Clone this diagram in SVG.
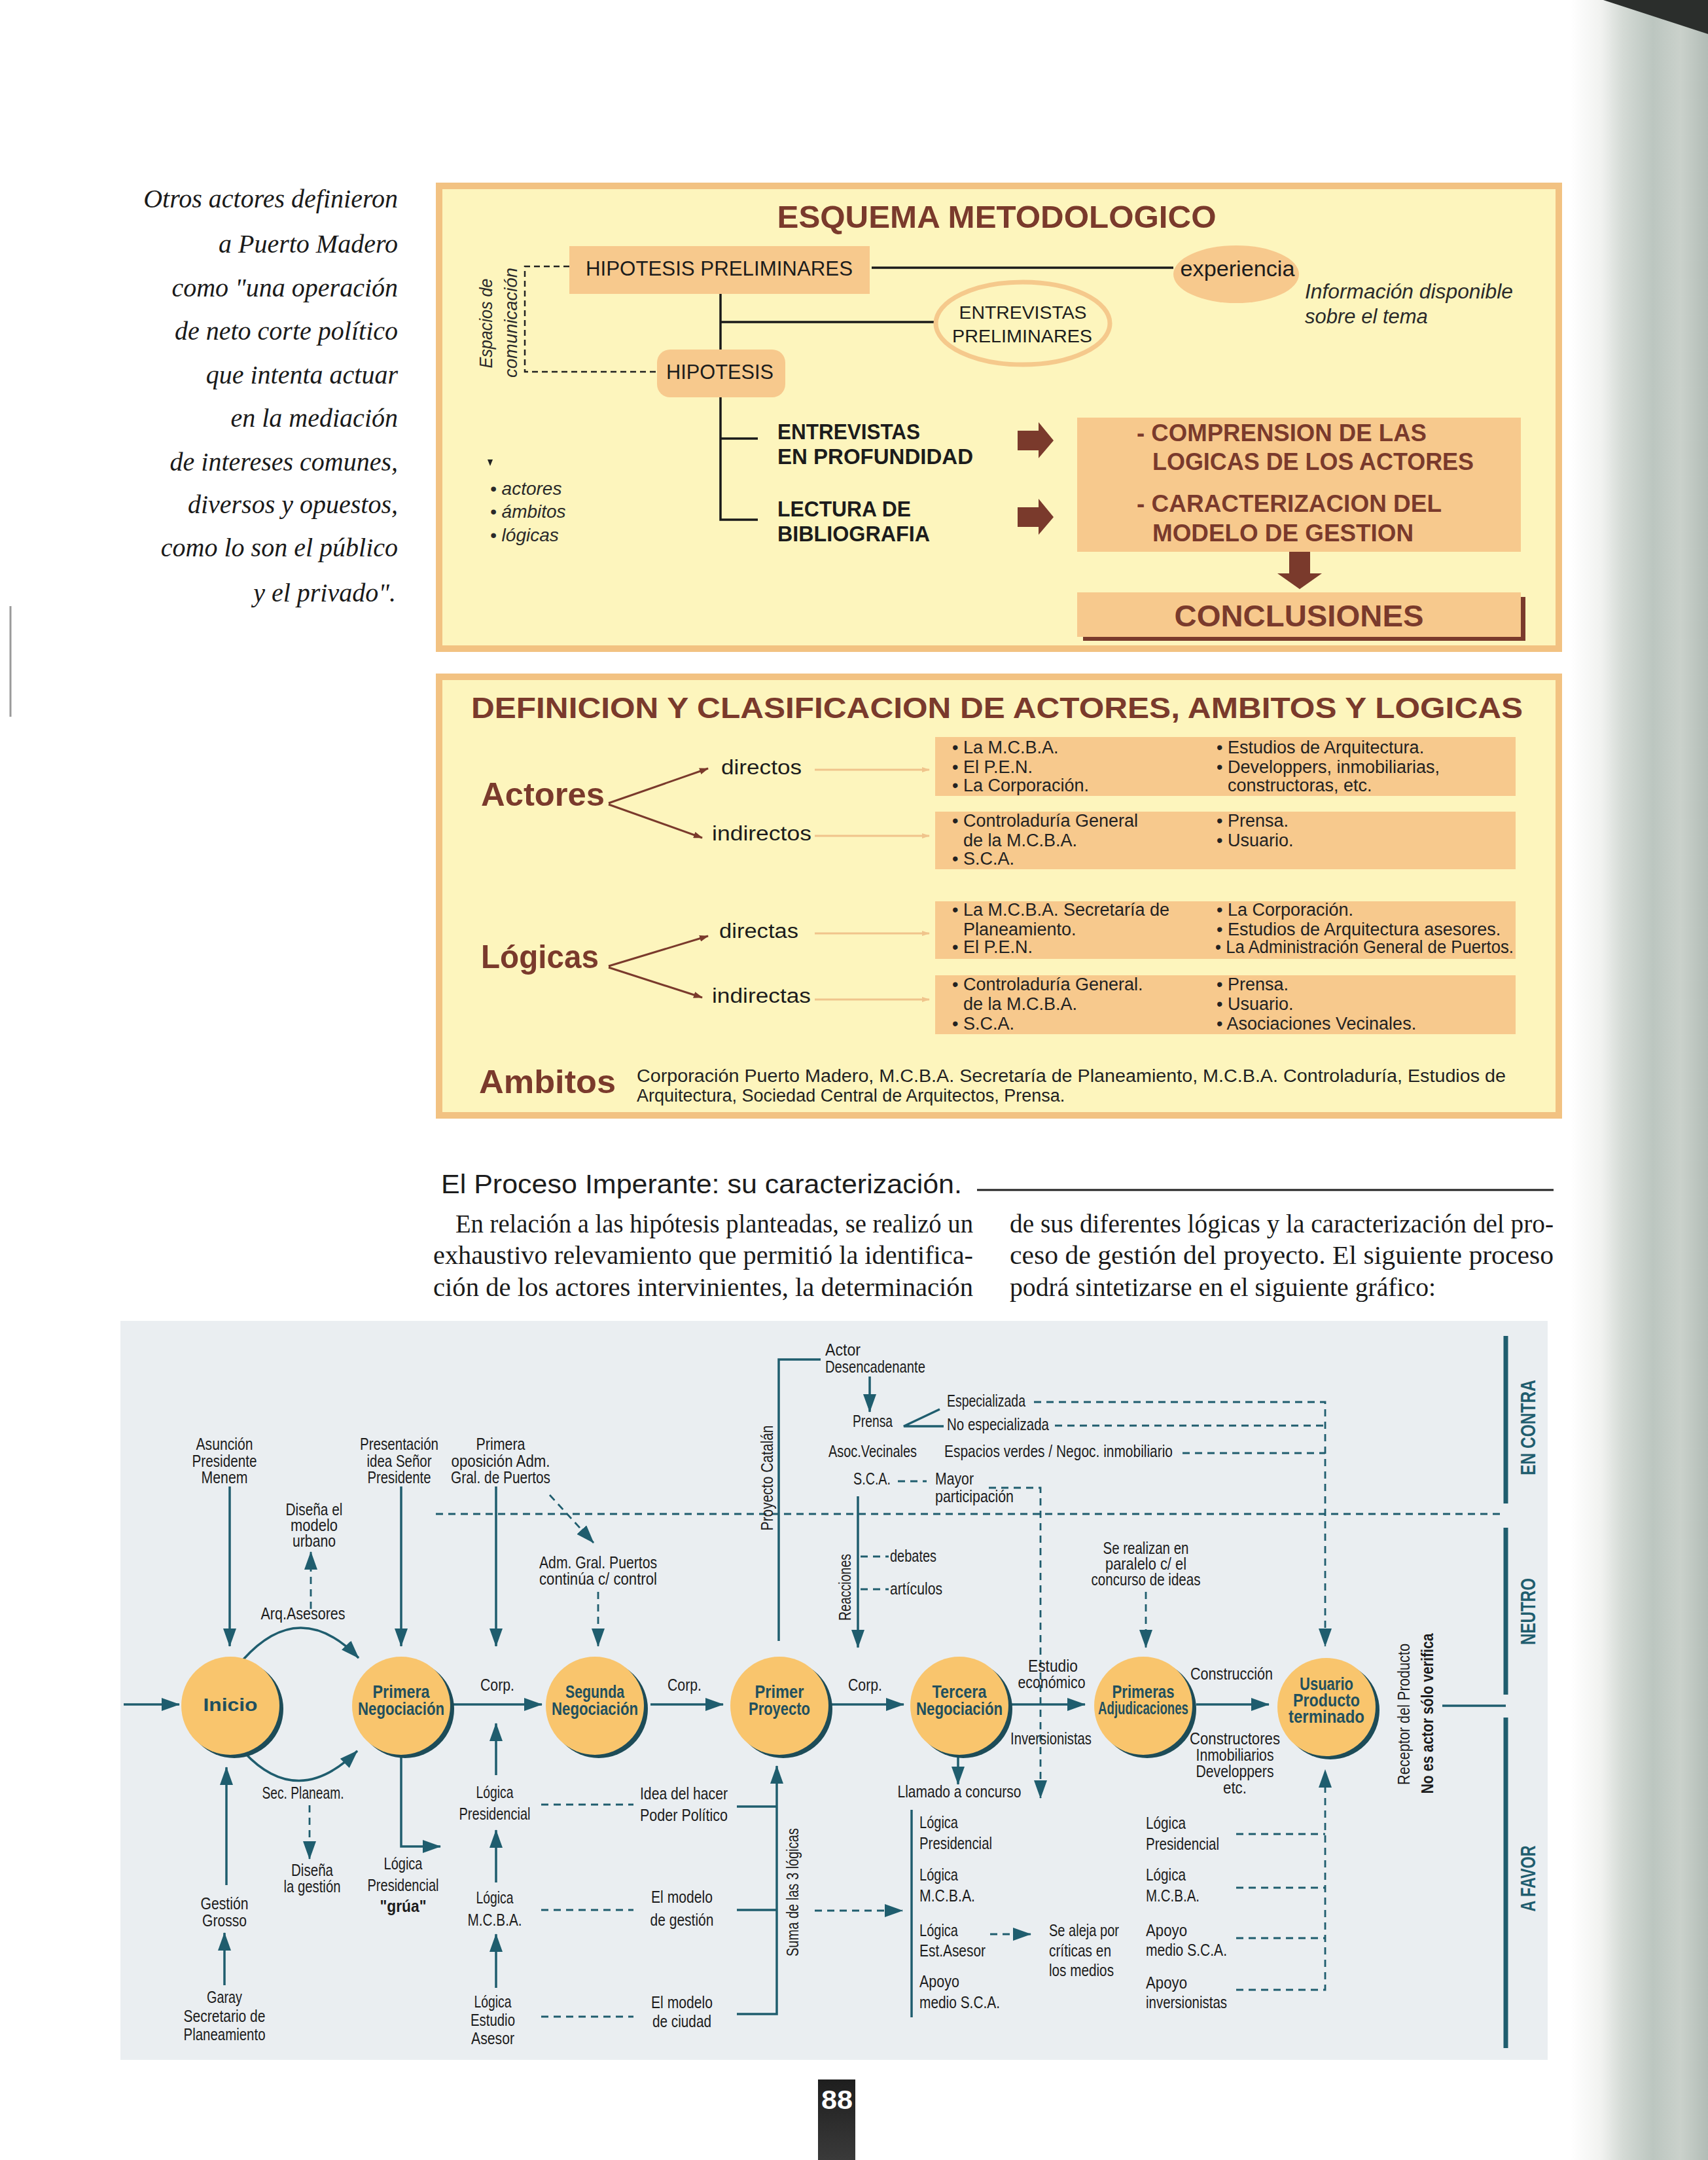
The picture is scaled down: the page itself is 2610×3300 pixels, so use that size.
<svg xmlns="http://www.w3.org/2000/svg" width="2610" height="3300" viewBox="0 0 2610 3300">
<defs>
<style>
.qt{font-family:"Liberation Serif",serif;font-style:italic;font-size:40px;fill:#1a1a1a;text-anchor:end}
.ttl{font-family:"Liberation Sans",sans-serif;font-weight:bold;fill:#7a3a2c}
.sb{font-family:"Liberation Sans",sans-serif;fill:#1c1c1c}
.bt{font-family:"Liberation Sans",sans-serif;font-size:27px;fill:#222}
.it{font-family:"Liberation Sans",sans-serif;font-style:italic;fill:#2a2a2a}
.pg{font-family:"Liberation Serif",serif;font-size:39px;fill:#1a1a1a}
.d{font-family:"Liberation Sans",sans-serif;font-size:26px;fill:#1c1c1c;text-anchor:middle}
.ds{font-family:"Liberation Sans",sans-serif;font-size:26px;fill:#1c1c1c}
.nd{font-family:"Liberation Sans",sans-serif;font-weight:bold;font-size:28px;fill:#21505e;text-anchor:middle}
.side{font-family:"Liberation Sans",sans-serif;font-weight:bold;font-size:32px;fill:#1f5d6e;text-anchor:middle}
.ln{stroke:#1f5d6e;stroke-width:3.5;fill:none}
.dash{stroke:#1f5d6e;stroke-width:2.8;fill:none;stroke-dasharray:11 8}
.bl{stroke:#1a1a1a;stroke-width:3.5;fill:none}
.tan{fill:#f7c98d}
.ybox{fill:#fdf5bd;stroke:#f2c282;stroke-width:10}
.bar{stroke:#1f5d6e;stroke-width:7;fill:none}
.circ{fill:#f9c56d}
.shd{fill:#1d4c58}
</style>
<marker id="ah" viewBox="0 0 28 20" refX="27" refY="10" markerWidth="28" markerHeight="20" markerUnits="userSpaceOnUse" orient="auto"><path d="M0,0 L28,10 L0,20 z" fill="#1f5d6e"/></marker>
<marker id="ab" viewBox="0 0 14 10" refX="13" refY="5" markerWidth="14" markerHeight="10" markerUnits="userSpaceOnUse" orient="auto"><path d="M0,0 L14,5 L0,10 z" fill="#7a3a2c"/></marker>
<marker id="af" viewBox="0 0 12 8" refX="11" refY="4" markerWidth="12" markerHeight="8" markerUnits="userSpaceOnUse" orient="auto"><path d="M0,0 L12,4 L0,8 z" fill="#f0c48c"/></marker>
<linearGradient id="edge" x1="0" y1="0" x2="1" y2="0">
<stop offset="0" stop-color="#ffffff"/>
<stop offset="0.22" stop-color="#f1f2f0"/>
<stop offset="0.38" stop-color="#d4dad5"/>
<stop offset="0.6" stop-color="#bcc6c0"/>
<stop offset="0.8" stop-color="#cad1cb"/>
<stop offset="1" stop-color="#b2bcb6"/>
</linearGradient>
<linearGradient id="pn" x1="0" y1="0" x2="0" y2="1">
<stop offset="0" stop-color="#1e1e1e"/>
<stop offset="1" stop-color="#3a3a3a"/>
</linearGradient>
</defs>

<rect x="0" y="0" width="2610" height="3300" fill="#ffffff"/>
<rect x="2400" y="0" width="210" height="3300" fill="url(#edge)"/>
<polygon points="2450,0 2610,0 2610,52 2530,26" fill="#2b2e2c"/>
<line x1="16" y1="926" x2="16" y2="1095" stroke="#9a9a9a" stroke-width="3"/>

<!-- Quote -->
<g id="quote">
<text class="qt" x="608" y="317">Otros actores definieron</text>
<text class="qt" x="608" y="386">a Puerto Madero</text>
<text class="qt" x="608" y="453">como "una operación</text>
<text class="qt" x="608" y="519">de neto corte político</text>
<text class="qt" x="608" y="586">que intenta actuar</text>
<text class="qt" x="608" y="652">en la mediación</text>
<text class="qt" x="608" y="719">de intereses comunes,</text>
<text class="qt" x="608" y="784">diversos y opuestos,</text>
<text class="qt" x="608" y="850">como lo son el público</text>
<text class="qt" x="605" y="919">y el privado".</text>
</g>

<!-- ESQUEMA METODOLOGICO -->
<g id="esquema">
<rect class="ybox" x="671" y="284" width="1711" height="707"/>
<text class="ttl" x="1523" y="348" font-size="49" text-anchor="middle" textLength="671" lengthAdjust="spacingAndGlyphs">ESQUEMA METODOLOGICO</text>
</g>
<g id="esq-connectors">
<path d="M870 407 H802 V568 H1002" stroke="#222" stroke-width="2.5" fill="none" stroke-dasharray="9 6"/>
<path class="bl" d="M1332 409 H1793"/>
<path class="bl" d="M1101 449 V534"/>
<path class="bl" d="M1101 492 H1429"/>
<path class="bl" d="M1101 607 V794 H1158"/>
<path class="bl" d="M1101 670 H1158"/>
<polygon points="1555,658 1587,658 1587,645 1610,673 1587,700 1587,688 1555,688" fill="#7a3a2c"/>
<polygon points="1555,775 1587,775 1587,762 1610,790 1587,817 1587,805 1555,805" fill="#7a3a2c"/>
<polygon points="1970,843 2002,843 2002,876 2020,876 1986,900 1952,876 1970,876" fill="#7a3a2c"/>
</g>
<g id="esq-espacios">
<text class="it" font-size="28" transform="translate(752,494) rotate(-90)" text-anchor="middle" textLength="137" lengthAdjust="spacingAndGlyphs">Espacios de</text>
<text class="it" font-size="28" transform="translate(790,493) rotate(-90)" text-anchor="middle" textLength="168" lengthAdjust="spacingAndGlyphs">comunicación</text>
</g>
<g id="esq-hip-prel">
<rect class="tan" x="870" y="376" width="459" height="73"/>
<text class="sb" x="1099" y="421" font-size="31" text-anchor="middle" textLength="408" lengthAdjust="spacingAndGlyphs">HIPOTESIS PRELIMINARES</text>
</g>
<g id="esq-experiencia">
<ellipse class="tan" cx="1889" cy="419" rx="96" ry="44"/>
<text class="sb" x="1891" y="422" font-size="33" text-anchor="middle" textLength="175" lengthAdjust="spacingAndGlyphs">experiencia</text>
<text class="it" x="1994" y="456" font-size="31" textLength="318" lengthAdjust="spacingAndGlyphs">Información disponible</text>
<text class="it" x="1994" y="494" font-size="31">sobre el tema</text>
</g>
<g id="esq-entrevistas-prel">
<ellipse cx="1563" cy="494" rx="133" ry="63" fill="#fdf5bd" stroke="#f5c98c" stroke-width="7"/>
<text class="sb" x="1563" y="487" font-size="28" text-anchor="middle" textLength="195" lengthAdjust="spacingAndGlyphs">ENTREVISTAS</text>
<text class="sb" x="1562" y="523" font-size="28" text-anchor="middle" textLength="214" lengthAdjust="spacingAndGlyphs">PRELIMINARES</text>
</g>
<g id="esq-hipotesis">
<rect class="tan" x="1004" y="534" width="196" height="73" rx="20"/>
<text class="sb" x="1100" y="579" font-size="31" text-anchor="middle" textLength="164" lengthAdjust="spacingAndGlyphs">HIPOTESIS</text>
</g>
<g id="esq-list">
<polygon points="745,702 753,702 749,712" fill="#222"/>
<text class="it" x="749" y="756" font-size="28">• actores</text>
<text class="it" x="749" y="791" font-size="28">• ámbitos</text>
<text class="it" x="749" y="827" font-size="28">• lógicas</text>
</g>
<g id="esq-entrevistas-prof">
<text class="sb" x="1188" y="671" font-size="33" font-weight="bold" textLength="218" lengthAdjust="spacingAndGlyphs">ENTREVISTAS</text>
<text class="sb" x="1188" y="709" font-size="33" font-weight="bold" textLength="299" lengthAdjust="spacingAndGlyphs">EN PROFUNDIDAD</text>
</g>
<g id="esq-lectura">
<text class="sb" x="1188" y="789" font-size="33" font-weight="bold" textLength="204" lengthAdjust="spacingAndGlyphs">LECTURA DE</text>
<text class="sb" x="1188" y="827" font-size="33" font-weight="bold" textLength="233" lengthAdjust="spacingAndGlyphs">BIBLIOGRAFIA</text>
</g>
<g id="esq-comprension">
<rect class="tan" x="1646" y="638" width="678" height="205"/>
<text class="ttl" x="1737" y="674" font-size="36" textLength="443" lengthAdjust="spacingAndGlyphs">- COMPRENSION DE LAS</text>
<text class="ttl" x="1761" y="718" font-size="36" textLength="491" lengthAdjust="spacingAndGlyphs">LOGICAS DE LOS ACTORES</text>
<text class="ttl" x="1737" y="782" font-size="36" textLength="466" lengthAdjust="spacingAndGlyphs">- CARACTERIZACION DEL</text>
<text class="ttl" x="1761" y="827" font-size="36" textLength="399" lengthAdjust="spacingAndGlyphs">MODELO DE GESTION</text>
</g>
<g id="esq-conclusiones">
<rect x="1655" y="912" width="676" height="67" fill="#7a3a2c"/>
<rect class="tan" x="1646" y="905" width="678" height="68"/>
<text class="ttl" x="1985" y="957" font-size="47" text-anchor="middle" textLength="381" lengthAdjust="spacingAndGlyphs">CONCLUSIONES</text>
</g>

<!-- DEFINICION Y CLASIFICACION -->
<g id="definicion">
<rect class="ybox" x="671" y="1034" width="1711" height="670"/>
<text class="ttl" x="720" y="1097" font-size="44" textLength="1607" lengthAdjust="spacingAndGlyphs">DEFINICION Y CLASIFICACION DE ACTORES, AMBITOS Y LOGICAS</text>
</g>
<g id="def-connectors">
<path d="M930 1227 L1082 1174" stroke="#7a3a2c" stroke-width="3" fill="none" marker-end="url(#ab)"/>
<path d="M930 1229 L1073 1280" stroke="#7a3a2c" stroke-width="3" fill="none" marker-end="url(#ab)"/>
<path d="M930 1476 L1082 1430" stroke="#7a3a2c" stroke-width="3" fill="none" marker-end="url(#ab)"/>
<path d="M930 1478 L1073 1524" stroke="#7a3a2c" stroke-width="3" fill="none" marker-end="url(#ab)"/>
<path d="M1245 1176 H1420" stroke="#f0c48c" stroke-width="3" fill="none" marker-end="url(#af)"/>
<path d="M1245 1277 H1420" stroke="#f0c48c" stroke-width="3" fill="none" marker-end="url(#af)"/>
<path d="M1245 1426 H1420" stroke="#f0c48c" stroke-width="3" fill="none" marker-end="url(#af)"/>
<path d="M1245 1527 H1420" stroke="#f0c48c" stroke-width="3" fill="none" marker-end="url(#af)"/>
</g>
<g id="def-actores">
<text class="ttl" x="735" y="1231" font-size="50" textLength="189" lengthAdjust="spacingAndGlyphs">Actores</text>
<text class="sb" x="1102" y="1183" font-size="31" textLength="123" lengthAdjust="spacingAndGlyphs">directos</text>
<text class="sb" x="1088" y="1284" font-size="31" textLength="152" lengthAdjust="spacingAndGlyphs">indirectos</text>
</g>
<g id="def-actores-directos">
<rect class="tan" x="1429" y="1126" width="887" height="90"/>
<text class="bt" x="1455" y="1151">• La M.C.B.A.</text>
<text class="bt" x="1455" y="1181">• El P.E.N.</text>
<text class="bt" x="1455" y="1209">• La Corporación.</text>
<text class="bt" x="1859" y="1151">• Estudios de Arquitectura.</text>
<text class="bt" x="1859" y="1181">• Developpers, inmobiliarias,</text>
<text class="bt" x="1876" y="1209">constructoras, etc.</text>
</g>
<g id="def-actores-indirectos">
<rect class="tan" x="1429" y="1240" width="887" height="88"/>
<text class="bt" x="1455" y="1263">• Controladuría General</text>
<text class="bt" x="1472" y="1293">de la M.C.B.A.</text>
<text class="bt" x="1455" y="1321">• S.C.A.</text>
<text class="bt" x="1859" y="1263">• Prensa.</text>
<text class="bt" x="1859" y="1293">• Usuario.</text>
</g>
<g id="def-logicas">
<text class="ttl" x="735" y="1479" font-size="50" textLength="180" lengthAdjust="spacingAndGlyphs">Lógicas</text>
<text class="sb" x="1099" y="1433" font-size="31" textLength="121" lengthAdjust="spacingAndGlyphs">directas</text>
<text class="sb" x="1088" y="1532" font-size="31" textLength="151" lengthAdjust="spacingAndGlyphs">indirectas</text>
</g>
<g id="def-logicas-directas">
<rect class="tan" x="1429" y="1377" width="887" height="88"/>
<text class="bt" x="1455" y="1399">• La M.C.B.A. Secretaría de</text>
<text class="bt" x="1472" y="1429">Planeamiento.</text>
<text class="bt" x="1455" y="1456">• El P.E.N.</text>
<text class="bt" x="1859" y="1399">• La Corporación.</text>
<text class="bt" x="1859" y="1429">• Estudios de Arquitectura asesores.</text>
<text class="bt" x="1857" y="1456" textLength="456" lengthAdjust="spacingAndGlyphs">• La Administración General de Puertos.</text>
</g>
<g id="def-logicas-indirectas">
<rect class="tan" x="1429" y="1490" width="887" height="90"/>
<text class="bt" x="1455" y="1513">• Controladuría General.</text>
<text class="bt" x="1472" y="1543">de la M.C.B.A.</text>
<text class="bt" x="1455" y="1573">• S.C.A.</text>
<text class="bt" x="1859" y="1513">• Prensa.</text>
<text class="bt" x="1859" y="1543">• Usuario.</text>
<text class="bt" x="1859" y="1573">• Asociaciones Vecinales.</text>
</g>
<g id="def-ambitos">
<text class="ttl" x="732" y="1670" font-size="50" textLength="209" lengthAdjust="spacingAndGlyphs">Ambitos</text>
<text class="bt" x="973" y="1653" textLength="1328" lengthAdjust="spacingAndGlyphs">Corporación Puerto Madero, M.C.B.A. Secretaría de Planeamiento, M.C.B.A. Controladuría, Estudios de</text>
<text class="bt" x="973" y="1683">Arquitectura, Sociedad Central de Arquitectos, Prensa.</text>
</g>

<!-- Heading and paragraph -->
<g id="heading">
<text class="sb" x="674" y="1823" font-size="40" textLength="796" lengthAdjust="spacingAndGlyphs">El Proceso Imperante: su caracterización.</text>
<line x1="1493" y1="1818" x2="2374" y2="1818" stroke="#222" stroke-width="3"/>
</g>
<g id="paragraph">
<text class="pg" x="696" y="1883" textLength="791" lengthAdjust="spacingAndGlyphs">En relación a las hipótesis planteadas, se realizó un</text>
<text class="pg" x="662" y="1931" textLength="825" lengthAdjust="spacingAndGlyphs">exhaustivo relevamiento que permitió la identifica-</text>
<text class="pg" x="662" y="1980" textLength="825" lengthAdjust="spacingAndGlyphs">ción de los actores intervinientes, la determinación</text>
<text class="pg" x="1543" y="1883" textLength="831" lengthAdjust="spacingAndGlyphs">de sus diferentes lógicas y la caracterización del pro-</text>
<text class="pg" x="1543" y="1931" textLength="831" lengthAdjust="spacingAndGlyphs">ceso de gestión del proyecto. El siguiente proceso</text>
<text class="pg" x="1543" y="1980" textLength="651" lengthAdjust="spacingAndGlyphs">podrá sintetizarse en el siguiente gráfico:</text>
</g>

<!-- Process diagram -->
<rect x="184" y="2018" width="2181" height="1129" fill="#eaeef1"/>

<g id="connectors">
<path class="ln" d="M189 2604 H274" marker-end="url(#ah)"/>
<path class="ln" d="M692 2604 H828" marker-end="url(#ah)"/>
<path class="ln" d="M994 2604 H1105" marker-end="url(#ah)"/>
<path class="ln" d="M1270 2604 H1381" marker-end="url(#ah)"/>
<path class="ln" d="M1544 2604 H1658" marker-end="url(#ah)"/>
<path class="ln" d="M1828 2604 H1939" marker-end="url(#ah)"/>
<path class="ln" d="M2204 2606 H2301"/>
<path class="ln" d="M351 2271 V2515" marker-end="url(#ah)"/>
<path class="ln" d="M613 2271 V2515" marker-end="url(#ah)"/>
<path class="ln" d="M758 2271 V2515" marker-end="url(#ah)"/>
<path class="ln" d="M372 2535 Q458 2440 548 2533" marker-end="url(#ah)"/>
<path class="ln" d="M373 2677 Q455 2765 546 2675" marker-end="url(#ah)"/>
<path class="ln" d="M613 2684 V2821 H673" marker-end="url(#ah)"/>
<path class="ln" d="M758 2712 V2633" marker-end="url(#ah)"/>
<path class="ln" d="M758 2876 V2796" marker-end="url(#ah)"/>
<path class="ln" d="M758 3037 V2955" marker-end="url(#ah)"/>
<path class="ln" d="M346 2880 V2700" marker-end="url(#ah)"/>
<path class="ln" d="M343 3033 V2953" marker-end="url(#ah)"/>
<path class="ln" d="M1254 2077 H1190 V2507"/>
<path class="ln" d="M1329 2103 V2157" marker-end="url(#ah)"/>
<path class="ln" d="M1436 2153 L1381 2179 L1442 2179"/>
<path class="ln" d="M1311 2286 V2517" marker-end="url(#ah)"/>
<path class="ln" d="M1126 2760 H1187"/>
<path class="ln" d="M1126 2918 H1187"/>
<path class="ln" d="M1126 3077 H1187 V2698" marker-end="url(#ah)"/>
<path class="ln" d="M1393 2765 V3082"/>
<path class="ln" d="M1464 2684 V2726" marker-end="url(#ah)"/>
<path class="dash" d="M475 2458 V2371" marker-end="url(#ah)"/>
<path class="dash" d="M473 2758 V2840" marker-end="url(#ah)"/>
<path class="dash" d="M840 2284 L907 2357" marker-end="url(#ah)"/>
<path class="dash" d="M914 2432 V2515" marker-end="url(#ah)"/>
<path class="dash" d="M666 2313 H2296"/>
<path class="dash" d="M1372 2263 H1416"/>
<path class="dash" d="M1511 2273 H1590 V2747" marker-end="url(#ah)"/>
<path class="dash" d="M1580 2142 H2025 V2515" marker-end="url(#ah)"/>
<path class="dash" d="M1612 2178 H2025"/>
<path class="dash" d="M1807 2220 H2025"/>
<path class="dash" d="M1315 2378 H1358"/>
<path class="dash" d="M1315 2428 H1358"/>
<path class="dash" d="M1751 2432 V2517" marker-end="url(#ah)"/>
<path class="dash" d="M827 2757 H968"/>
<path class="dash" d="M827 2918 H968"/>
<path class="dash" d="M827 3081 H968"/>
<path class="dash" d="M1245 2919 H1379" marker-end="url(#ah)"/>
<path class="dash" d="M1513 2955 H1575" marker-end="url(#ah)"/>
<path class="dash" d="M1889 2802 H2025"/>
<path class="dash" d="M1889 2884 H2025"/>
<path class="dash" d="M1889 2961 H2025"/>
<path class="dash" d="M1889 3040 H2025 V2704" marker-end="url(#ah)"/>
<path class="bar" d="M2301 2041 V2297"/>
<path class="bar" d="M2301 2334 V2589"/>
<path class="bar" d="M2301 2624 V3129"/>
</g>

<g id="node-inicio">
<circle class="shd" cx="358" cy="2611" r="75"/>
<circle class="circ" cx="352" cy="2606" r="75"/>
<text class="nd" x="352" y="2614" font-size="34" textLength="83" lengthAdjust="spacingAndGlyphs">Inicio</text>
</g>
<g id="node-primera">
<circle class="shd" cx="619" cy="2611" r="75"/>
<circle class="circ" cx="613" cy="2606" r="75"/>
<text class="nd" x="613" y="2594" textLength="87" lengthAdjust="spacingAndGlyphs">Primera</text>
<text class="nd" x="613" y="2620" textLength="132" lengthAdjust="spacingAndGlyphs">Negociación</text>
</g>
<g id="node-segunda">
<circle class="shd" cx="915" cy="2611" r="75"/>
<circle class="circ" cx="909" cy="2606" r="75"/>
<text class="nd" x="909" y="2594" textLength="90" lengthAdjust="spacingAndGlyphs">Segunda</text>
<text class="nd" x="909" y="2620" textLength="132" lengthAdjust="spacingAndGlyphs">Negociación</text>
</g>
<g id="node-primer-proyecto">
<circle class="shd" cx="1197" cy="2611" r="75"/>
<circle class="circ" cx="1191" cy="2606" r="75"/>
<text class="nd" x="1191" y="2594" textLength="75" lengthAdjust="spacingAndGlyphs">Primer</text>
<text class="nd" x="1191" y="2620" textLength="94" lengthAdjust="spacingAndGlyphs">Proyecto</text>
</g>
<g id="node-tercera">
<circle class="shd" cx="1472" cy="2611" r="75"/>
<circle class="circ" cx="1466" cy="2606" r="75"/>
<text class="nd" x="1466" y="2594" textLength="83" lengthAdjust="spacingAndGlyphs">Tercera</text>
<text class="nd" x="1466" y="2620" textLength="132" lengthAdjust="spacingAndGlyphs">Negociación</text>
</g>
<g id="node-primeras-adjudicaciones">
<circle class="shd" cx="1753" cy="2611" r="75"/>
<circle class="circ" cx="1747" cy="2606" r="75"/>
<text class="nd" x="1747" y="2594" font-size="25" textLength="95" lengthAdjust="spacingAndGlyphs">Primeras</text>
<text class="nd" x="1747" y="2619" font-size="25" textLength="138" lengthAdjust="spacingAndGlyphs">Adjudicaciones</text>
</g>
<g id="node-usuario">
<circle class="shd" cx="2033" cy="2613" r="75"/>
<circle class="circ" cx="2027" cy="2608" r="75"/>
<text class="nd" x="2027" y="2582" font-size="24" textLength="82" lengthAdjust="spacingAndGlyphs">Usuario</text>
<text class="nd" x="2027" y="2607" font-size="24" textLength="102" lengthAdjust="spacingAndGlyphs">Producto</text>
<text class="nd" x="2027" y="2632" font-size="24" textLength="116" lengthAdjust="spacingAndGlyphs">terminado</text>
</g>

<g id="labels-left">
<text class="d" x="343" y="2215" textLength="87" lengthAdjust="spacingAndGlyphs">Asunción</text>
<text class="d" x="343" y="2241" textLength="99" lengthAdjust="spacingAndGlyphs">Presidente</text>
<text class="d" x="343" y="2266" textLength="71" lengthAdjust="spacingAndGlyphs">Menem</text>
<text class="d" x="480" y="2315" textLength="87" lengthAdjust="spacingAndGlyphs">Diseña el</text>
<text class="d" x="480" y="2339" textLength="72" lengthAdjust="spacingAndGlyphs">modelo</text>
<text class="d" x="480" y="2363" textLength="66" lengthAdjust="spacingAndGlyphs">urbano</text>
<text class="d" x="463" y="2474" textLength="129" lengthAdjust="spacingAndGlyphs">Arq.Asesores</text>
<text class="d" x="610" y="2215" textLength="120" lengthAdjust="spacingAndGlyphs">Presentación</text>
<text class="d" x="610" y="2241" textLength="99" lengthAdjust="spacingAndGlyphs">idea Señor</text>
<text class="d" x="610" y="2266" textLength="97" lengthAdjust="spacingAndGlyphs">Presidente</text>
<text class="d" x="765" y="2215" textLength="75" lengthAdjust="spacingAndGlyphs">Primera</text>
<text class="d" x="765" y="2241" textLength="151" lengthAdjust="spacingAndGlyphs">oposición Adm.</text>
<text class="d" x="765" y="2266" textLength="152" lengthAdjust="spacingAndGlyphs">Gral. de Puertos</text>
<text class="d" x="914" y="2396" font-size="22" textLength="180" lengthAdjust="spacingAndGlyphs">Adm. Gral. Puertos</text>
<text class="d" x="914" y="2421" font-size="22" textLength="180" lengthAdjust="spacingAndGlyphs">continúa c/ control</text>
<text class="d" x="760" y="2583" textLength="52" lengthAdjust="spacingAndGlyphs">Corp.</text>
<text class="d" x="1046" y="2583" textLength="52" lengthAdjust="spacingAndGlyphs">Corp.</text>
<text class="d" x="1322" y="2583" textLength="52" lengthAdjust="spacingAndGlyphs">Corp.</text>
<text class="d" x="463" y="2748" textLength="125" lengthAdjust="spacingAndGlyphs">Sec. Planeam.</text>
<text class="d" x="477" y="2866" textLength="64" lengthAdjust="spacingAndGlyphs">Diseña</text>
<text class="d" x="477" y="2891" textLength="87" lengthAdjust="spacingAndGlyphs">la gestión</text>
<text class="d" x="616" y="2856" textLength="59" lengthAdjust="spacingAndGlyphs">Lógica</text>
<text class="d" x="616" y="2889" textLength="109" lengthAdjust="spacingAndGlyphs">Presidencial</text>
<text class="d" x="616" y="2921" font-weight="bold" textLength="71" lengthAdjust="spacingAndGlyphs">"grúa"</text>
<text class="d" x="343" y="2917" textLength="73" lengthAdjust="spacingAndGlyphs">Gestión</text>
<text class="d" x="343" y="2943" textLength="68" lengthAdjust="spacingAndGlyphs">Grosso</text>
<text class="d" x="343" y="3060" textLength="54" lengthAdjust="spacingAndGlyphs">Garay</text>
<text class="d" x="343" y="3089" textLength="125" lengthAdjust="spacingAndGlyphs">Secretario de</text>
<text class="d" x="343" y="3117" textLength="125" lengthAdjust="spacingAndGlyphs">Planeamiento</text>
<text class="d" x="756" y="2747" textLength="57" lengthAdjust="spacingAndGlyphs">Lógica</text>
<text class="d" x="756" y="2780" textLength="109" lengthAdjust="spacingAndGlyphs">Presidencial</text>
<text class="d" x="756" y="2908" textLength="57" lengthAdjust="spacingAndGlyphs">Lógica</text>
<text class="d" x="756" y="2942" textLength="83" lengthAdjust="spacingAndGlyphs">M.C.B.A.</text>
<text class="d" x="753" y="3067" textLength="57" lengthAdjust="spacingAndGlyphs">Lógica</text>
<text class="d" x="753" y="3095" textLength="68" lengthAdjust="spacingAndGlyphs">Estudio</text>
<text class="d" x="753" y="3123" textLength="66" lengthAdjust="spacingAndGlyphs">Asesor</text>
<text class="ds" x="978" y="2749" textLength="134" lengthAdjust="spacingAndGlyphs">Idea del hacer</text>
<text class="ds" x="978" y="2782" textLength="134" lengthAdjust="spacingAndGlyphs">Poder Político</text>
<text class="d" x="1042" y="2907" textLength="94" lengthAdjust="spacingAndGlyphs">El modelo</text>
<text class="d" x="1042" y="2942" textLength="97" lengthAdjust="spacingAndGlyphs">de gestión</text>
<text class="d" x="1042" y="3068" textLength="94" lengthAdjust="spacingAndGlyphs">El modelo</text>
<text class="d" x="1042" y="3097" textLength="90" lengthAdjust="spacingAndGlyphs">de ciudad</text>
<text class="d" transform="translate(1220,2891) rotate(-90)" textLength="196" lengthAdjust="spacingAndGlyphs">Suma de las 3 lógicas</text>
</g>

<g id="labels-top">
<text class="ds" x="1261" y="2071" textLength="54" lengthAdjust="spacingAndGlyphs">Actor</text>
<text class="ds" x="1261" y="2097" textLength="153" lengthAdjust="spacingAndGlyphs">Desencadenante</text>
<text class="d" transform="translate(1181,2258) rotate(-90)" textLength="161" lengthAdjust="spacingAndGlyphs">Proyecto Catalán</text>
<text class="ds" x="1303" y="2180" textLength="61" lengthAdjust="spacingAndGlyphs">Prensa</text>
<text class="ds" x="1447" y="2149" textLength="120" lengthAdjust="spacingAndGlyphs">Especializada</text>
<text class="ds" x="1447" y="2185" textLength="156" lengthAdjust="spacingAndGlyphs">No especializada</text>
<text class="ds" x="1266" y="2226" textLength="135" lengthAdjust="spacingAndGlyphs">Asoc.Vecinales</text>
<text class="ds" x="1443" y="2226" textLength="349" lengthAdjust="spacingAndGlyphs">Espacios verdes / Negoc. inmobiliario</text>
<text class="ds" x="1304" y="2268" textLength="57" lengthAdjust="spacingAndGlyphs">S.C.A.</text>
<text class="ds" x="1429" y="2268" textLength="59" lengthAdjust="spacingAndGlyphs">Mayor</text>
<text class="ds" x="1429" y="2295" textLength="120" lengthAdjust="spacingAndGlyphs">participación</text>
<text class="d" transform="translate(1300,2425) rotate(-90)" textLength="102" lengthAdjust="spacingAndGlyphs">Reacciones</text>
<text class="ds" x="1360" y="2386" textLength="71" lengthAdjust="spacingAndGlyphs">debates</text>
<text class="ds" x="1360" y="2436" textLength="80" lengthAdjust="spacingAndGlyphs">artículos</text>
<text class="d" x="1751" y="2374" textLength="131" lengthAdjust="spacingAndGlyphs">Se realizan en</text>
<text class="d" x="1751" y="2398" textLength="124" lengthAdjust="spacingAndGlyphs">paralelo c/ el</text>
<text class="d" x="1751" y="2422" textLength="167" lengthAdjust="spacingAndGlyphs">concurso de ideas</text>
<text class="d" x="1609" y="2554" font-size="24" textLength="76" lengthAdjust="spacingAndGlyphs">Estudio</text>
<text class="d" x="1607" y="2579" font-size="24" textLength="103" lengthAdjust="spacingAndGlyphs">económico</text>
<text class="d" x="1606" y="2665" textLength="124" lengthAdjust="spacingAndGlyphs">Inversionistas</text>
<text class="d" x="1882" y="2566" textLength="126" lengthAdjust="spacingAndGlyphs">Construcción</text>
<text class="d" x="1887" y="2665" font-size="23" textLength="138" lengthAdjust="spacingAndGlyphs">Constructores</text>
<text class="d" x="1887" y="2690" font-size="23" textLength="119" lengthAdjust="spacingAndGlyphs">Inmobiliarios</text>
<text class="d" x="1887" y="2715" font-size="23" textLength="119" lengthAdjust="spacingAndGlyphs">Developpers</text>
<text class="d" x="1887" y="2740" font-size="23" textLength="36" lengthAdjust="spacingAndGlyphs">etc.</text>
<text class="d" transform="translate(2154,2619) rotate(-90)" textLength="216" lengthAdjust="spacingAndGlyphs">Receptor del Producto</text>
<text class="d" transform="translate(2190,2618) rotate(-90)" font-weight="bold" textLength="245" lengthAdjust="spacingAndGlyphs">No es actor sólo verifica</text>
</g>

<g id="labels-right">
<text class="d" x="1466" y="2746" textLength="189" lengthAdjust="spacingAndGlyphs">Llamado a concurso</text>
<text class="ds" x="1405" y="2793" textLength="59" lengthAdjust="spacingAndGlyphs">Lógica</text>
<text class="ds" x="1405" y="2825" textLength="111" lengthAdjust="spacingAndGlyphs">Presidencial</text>
<text class="ds" x="1405" y="2873" textLength="59" lengthAdjust="spacingAndGlyphs">Lógica</text>
<text class="ds" x="1405" y="2905" textLength="85" lengthAdjust="spacingAndGlyphs">M.C.B.A.</text>
<text class="ds" x="1405" y="2958" textLength="59" lengthAdjust="spacingAndGlyphs">Lógica</text>
<text class="ds" x="1405" y="2989" textLength="101" lengthAdjust="spacingAndGlyphs">Est.Asesor</text>
<text class="ds" x="1405" y="3036" textLength="61" lengthAdjust="spacingAndGlyphs">Apoyo</text>
<text class="ds" x="1405" y="3068" textLength="123" lengthAdjust="spacingAndGlyphs">medio S.C.A.</text>
<text class="ds" x="1603" y="2958" textLength="107" lengthAdjust="spacingAndGlyphs">Se aleja por</text>
<text class="ds" x="1603" y="2989" textLength="95" lengthAdjust="spacingAndGlyphs">críticas en</text>
<text class="ds" x="1603" y="3019" textLength="99" lengthAdjust="spacingAndGlyphs">los medios</text>
<text class="ds" x="1751" y="2794" textLength="61" lengthAdjust="spacingAndGlyphs">Lógica</text>
<text class="ds" x="1751" y="2826" textLength="112" lengthAdjust="spacingAndGlyphs">Presidencial</text>
<text class="ds" x="1751" y="2873" textLength="61" lengthAdjust="spacingAndGlyphs">Lógica</text>
<text class="ds" x="1751" y="2905" textLength="82" lengthAdjust="spacingAndGlyphs">M.C.B.A.</text>
<text class="ds" x="1751" y="2958" textLength="63" lengthAdjust="spacingAndGlyphs">Apoyo</text>
<text class="ds" x="1751" y="2988" textLength="124" lengthAdjust="spacingAndGlyphs">medio S.C.A.</text>
<text class="ds" x="1751" y="3038" textLength="63" lengthAdjust="spacingAndGlyphs">Apoyo</text>
<text class="ds" x="1751" y="3068" textLength="124" lengthAdjust="spacingAndGlyphs">inversionistas</text>
</g>

<g id="side-labels">
<text class="side" transform="translate(2346,2181) rotate(-90)" textLength="146" lengthAdjust="spacingAndGlyphs">EN CONTRA</text>
<text class="side" transform="translate(2346,2462) rotate(-90)" textLength="102" lengthAdjust="spacingAndGlyphs">NEUTRO</text>
<text class="side" transform="translate(2346,2870) rotate(-90)" textLength="101" lengthAdjust="spacingAndGlyphs">A FAVOR</text>
</g>

<g id="page-number">
<rect x="1250" y="3177" width="57" height="123" fill="url(#pn)"/>
<text x="1279" y="3222" font-family="Liberation Sans, sans-serif" font-weight="bold" font-size="40" fill="#ffffff" text-anchor="middle" textLength="48" lengthAdjust="spacingAndGlyphs">88</text>
</g>
</svg>
